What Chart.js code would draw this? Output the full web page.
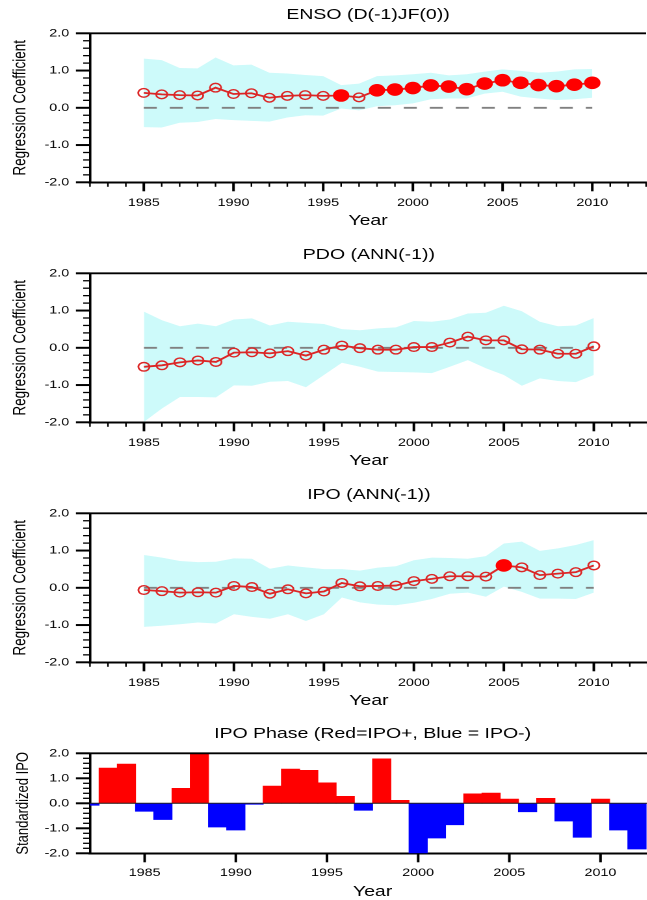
<!DOCTYPE html>
<html>
<head>
<meta charset="utf-8">
<script src="https://cdn.jsdelivr.net/npm/chart.js@4.4.0/dist/chart.umd.min.js"></script>
<style>
  html, body { margin: 0; padding: 0; background: #fff; }
  body { width: 647px; height: 900px; overflow: hidden; position: relative; }
  /* the reference is stretched sideways, so each panel is drawn narrow and widened */
  .panel { position: absolute; left: 0; transform: scaleX(1.3); transform-origin: 0 0; }
</style>
</head>
<body>
<canvas id="enso" class="panel" width="504" height="240" style="top:0px"></canvas>
<canvas id="pdo" class="panel" width="504" height="240" style="top:240px"></canvas>
<canvas id="ipo" class="panel" width="504" height="240" style="top:480px"></canvas>
<canvas id="phase" class="panel" width="504" height="200" style="top:715px"></canvas>
<script>
// Data
const years = [1985, 1986, 1987, 1988, 1989, 1990, 1991, 1992, 1993, 1994, 1995, 1996, 1997,
               1998, 1999, 2000, 2001, 2002, 2003, 2004, 2005, 2006, 2007, 2008, 2009, 2010];

const ensoCoef  = [0.40, 0.36, 0.34, 0.33, 0.54, 0.37, 0.39, 0.27, 0.32, 0.34, 0.32, 0.33, 0.28,
                   0.47, 0.49, 0.53, 0.60, 0.57, 0.50, 0.65, 0.74, 0.67, 0.61, 0.58, 0.62, 0.67];
const ensoSig   = [0, 0, 0, 0, 0, 0, 0, 0, 0, 0, 0, 1, 0, 1, 1, 1, 1, 1, 1, 1, 1, 1, 1, 1, 1, 1];
const ensoUpper = [1.32, 1.28, 1.07, 1.06, 1.35, 1.14, 1.16, 0.94, 0.92, 0.88, 0.85, 0.61, 0.65,
                   0.85, 0.87, 0.90, 0.94, 0.87, 0.90, 0.97, 1.03, 0.99, 0.94, 0.97, 1.03, 1.04];
const ensoLower = [-0.52, -0.53, -0.40, -0.38, -0.30, -0.33, -0.35, -0.37, -0.26, -0.20, -0.21, -0.02, -0.07,
                   0.04, 0.07, 0.12, 0.23, 0.25, 0.25, 0.38, 0.43, 0.30, 0.25, 0.21, 0.23, 0.27];

const pdoCoef  = [-0.51, -0.47, -0.39, -0.34, -0.38, -0.13, -0.12, -0.15, -0.09, -0.21, -0.05, 0.06, -0.01,
                  -0.05, -0.05, 0.02, 0.02, 0.14, 0.30, 0.20, 0.20, -0.04, -0.05, -0.16, -0.16, 0.04];
const pdoSig   = [0, 0, 0, 0, 0, 0, 0, 0, 0, 0, 0, 0, 0, 0, 0, 0, 0, 0, 0, 0, 0, 0, 0, 0, 0, 0];
const pdoUpper = [0.97, 0.74, 0.58, 0.65, 0.58, 0.76, 0.79, 0.60, 0.70, 0.67, 0.64, 0.50, 0.47,
                  0.52, 0.55, 0.72, 0.70, 0.76, 0.92, 0.94, 1.13, 0.98, 0.70, 0.58, 0.60, 0.80];
const pdoLower = [-1.99, -1.63, -1.32, -1.32, -1.33, -1.01, -1.02, -0.91, -0.89, -1.06, -0.73, -0.40, -0.51,
                  -0.64, -0.65, -0.66, -0.68, -0.51, -0.33, -0.55, -0.73, -1.02, -0.82, -0.89, -0.92, -0.73];

const ipoCoef  = [-0.06, -0.09, -0.13, -0.12, -0.13, 0.05, 0.02, -0.16, -0.04, -0.15, -0.10, 0.13, 0.04,
                  0.05, 0.06, 0.18, 0.24, 0.31, 0.31, 0.30, 0.60, 0.55, 0.34, 0.38, 0.42, 0.60];
const ipoSig   = [0, 0, 0, 0, 0, 0, 0, 0, 0, 0, 0, 0, 0, 0, 0, 0, 0, 0, 0, 0, 1, 0, 0, 0, 0, 0];
const ipoUpper = [0.88, 0.81, 0.72, 0.69, 0.70, 0.79, 0.78, 0.51, 0.60, 0.55, 0.50, 0.50, 0.46,
                  0.54, 0.58, 0.74, 0.81, 0.80, 0.78, 0.85, 1.19, 1.24, 0.99, 1.06, 1.15, 1.28];
const ipoLower = [-1.05, -1.02, -0.98, -0.93, -0.96, -0.71, -0.78, -0.83, -0.71, -0.89, -0.71, -0.26, -0.39,
                  -0.45, -0.47, -0.40, -0.30, -0.16, -0.13, -0.24, 0.03, -0.11, -0.29, -0.29, -0.30, -0.13];

const phaseYears = [1982, 1983, 1984, 1985, 1986, 1987, 1988, 1989, 1990, 1991, 1992, 1993, 1994, 1995, 1996,
                    1997, 1998, 1999, 2000, 2001, 2002, 2003, 2004, 2005, 2006, 2007, 2008, 2009, 2010, 2011, 2012];
const ipoPhase = [-0.08, 1.41, 1.57, -0.32, -0.65, 0.60, 2.00, -0.95, -1.07, -0.04, 0.69, 1.37, 1.32, 0.82, 0.28,
                  -0.28, 1.78, 0.12, -2.00, -1.39, -0.86, 0.38, 0.41, 0.17, -0.34, 0.20, -0.71, -1.36, 0.17, -1.07, -1.83];

const xTicks = [1985, 1990, 1995, 2000, 2005, 2010];
const yTicks = [-2, -1, 0, 1, 2];

Chart.defaults.font.family = '"Liberation Sans", Arial, sans-serif';
Chart.defaults.color = '#000';

// Minor/major tick marks outside the axes, plus the top frame line
const axisTicks = {
  id: 'axisTicks',
  afterDatasetsDraw(chart, args, opts) {
    if (!opts.zeroLine) return;
    const { ctx, chartArea: a, scales: { y } } = chart;
    const py = y.getPixelForValue(0);
    ctx.save();
    ctx.strokeStyle = '#222';
    ctx.lineWidth = 1;
    ctx.beginPath(); ctx.moveTo(a.left, py); ctx.lineTo(a.right, py); ctx.stroke();
    ctx.restore();
  },
  afterDraw(chart, args, opts) {
    const { ctx, chartArea: a, scales: { x, y } } = chart;
    ctx.save();
    ctx.strokeStyle = '#000';
    ctx.lineWidth = 1.8;
    ctx.beginPath(); ctx.moveTo(a.left, a.top); ctx.lineTo(a.right, a.top); ctx.stroke();

    for (let yr = Math.ceil(x.min); yr <= x.max; yr++) {
      const major = yr % 5 === 0;
      if (!major && !opts.xMinor) continue;
      const px = x.getPixelForValue(yr);
      ctx.lineWidth = major ? 2 : 1.2;
      ctx.beginPath(); ctx.moveTo(px, a.bottom); ctx.lineTo(px, a.bottom + (major ? 9 : 4.5)); ctx.stroke();
    }
    for (let i = 0; i <= 20; i++) {
      const major = i % 5 === 0;
      const py = y.getPixelForValue(-2 + i * 0.2);
      ctx.lineWidth = major ? 2 : 1.3;
      ctx.beginPath(); ctx.moveTo(a.left, py); ctx.lineTo(a.left - (major ? 10.8 : 5.2), py); ctx.stroke();
    }
    ctx.restore();
  }
};

function xScale(height, pad, yearPad) {
  return {
    type: 'linear', min: 1982, max: 2013, offset: false,
    afterFit: s => { s.height = height; },
    afterBuildTicks: s => { s.ticks = xTicks.map(v => ({ value: v })); },
    ticks: { callback: v => String(v), font: { size: 11 }, padding: pad, maxRotation: 0, autoSkip: false },
    grid: { display: false, drawTicks: false, offset: false },
    border: { display: true, color: '#000', width: 2 },
    title: { display: true, text: 'Year', font: { size: 15 }, padding: { top: 0, bottom: yearPad } }
  };
}

function yScale(label, size, pad) {
  return {
    min: -2, max: 2,
    afterFit: s => { s.width = 69.2; },
    afterBuildTicks: s => { s.ticks = yTicks.map(v => ({ value: v })); },
    ticks: { callback: v => v.toFixed(1), font: { size: 11 }, padding: 16 },
    grid: { display: false, drawTicks: false },
    border: { display: true, color: '#000', width: 1.8 },
    title: { display: true, text: label, font: { size: size }, padding: { top: pad, bottom: 0 } }
  };
}

function renderRegression(id, title, coef, sig, upper, lower) {
  const pts = arr => years.map((yr, i) => ({ x: yr, y: arr[i] }));
  new Chart(document.getElementById(id), {
    type: 'line',
    data: {
      datasets: [
        {
          data: pts(coef),
          borderColor: '#dc2626',
          borderWidth: 1.8,
          pointStyle: 'circle',
          pointRadius: c => sig[c.dataIndex] ? 5.6 : 4.3,
          pointBackgroundColor: c => sig[c.dataIndex] ? '#ff0000' : 'rgba(255,255,255,0)',
          pointBorderColor: c => sig[c.dataIndex] ? '#ff0000' : '#dc2626',
          pointBorderWidth: 1.4,
          fill: false
        },
        {
          data: pts(years.map(() => 0)),
          borderColor: '#808080',
          borderWidth: 1.8,
          borderDash: [10, 10],
          pointRadius: 0,
          fill: false
        },
        {
          data: pts(upper),
          borderColor: 'rgba(0,0,0,0)',
          backgroundColor: '#cdfafa',
          pointRadius: 0,
          fill: '+1'
        },
        {
          data: pts(lower),
          borderColor: 'rgba(0,0,0,0)',
          pointRadius: 0,
          fill: false
        }
      ]
    },
    options: {
      responsive: false,
      animation: false,
      devicePixelRatio: 2,
      layout: { padding: 0 },
      plugins: {
        legend: { display: false },
        tooltip: { enabled: false },
        title: { display: true, text: title, fullSize: false, font: { size: 15, weight: 'normal' },
                 color: '#000', padding: { top: 6, bottom: 9.3 } },
        axisTicks: { xMinor: true }
      },
      scales: { x: xScale(57.7, 14, 10), y: yScale('Regression Coefficient', 13.5, 7.7) }
    },
    plugins: [axisTicks]
  });
}

function renderPhase() {
  new Chart(document.getElementById('phase'), {
    type: 'bar',
    data: {
      datasets: [{
        data: phaseYears.map((yr, i) => ({ x: yr, y: ipoPhase[i] })),
        backgroundColor: c => c.raw.y >= 0 ? '#ff0000' : '#0000ff',
        borderWidth: 0,
        categoryPercentage: 1,
        barPercentage: 1
      }]
    },
    options: {
      responsive: false,
      animation: false,
      devicePixelRatio: 2,
      layout: { padding: 0 },
      plugins: {
        legend: { display: false },
        tooltip: { enabled: false },
        title: { display: true, text: 'IPO Phase (Red=IPO+, Blue = IPO-)', fullSize: false,
                 font: { size: 15, weight: 'normal' }, color: '#000', padding: { top: 10, bottom: 10.3 } },
        axisTicks: { xMinor: false, zeroLine: true }
      },
      scales: { x: xScale(61.7, 13, 14), y: yScale('Standardized IPO', 13, 9.9) }
    },
    plugins: [axisTicks]
  });
}

renderRegression('enso', 'ENSO (D(-1)JF(0))', ensoCoef, ensoSig, ensoUpper, ensoLower);
renderRegression('pdo', 'PDO (ANN(-1))', pdoCoef, pdoSig, pdoUpper, pdoLower);
renderRegression('ipo', 'IPO (ANN(-1))', ipoCoef, ipoSig, ipoUpper, ipoLower);
renderPhase();
</script>
</body>
</html>
